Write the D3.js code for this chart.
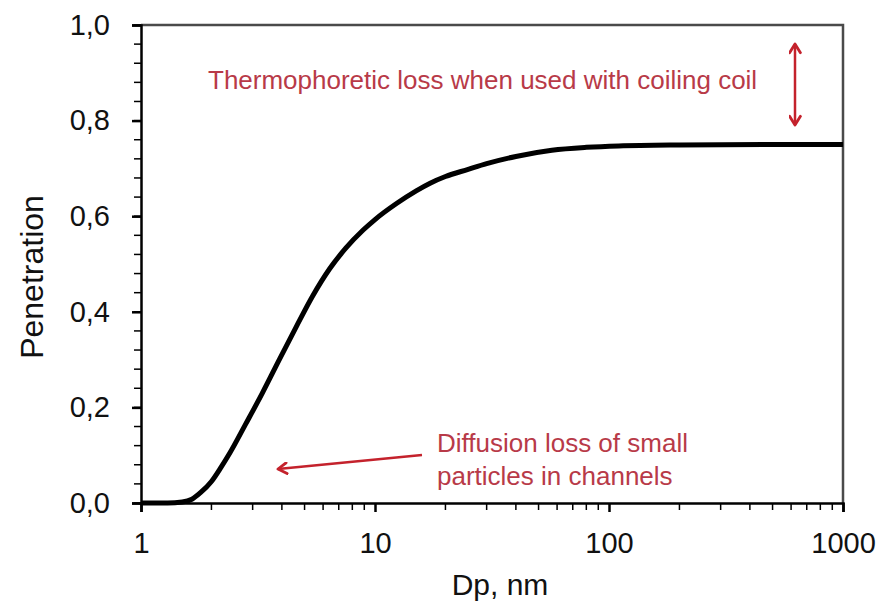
<!DOCTYPE html>
<html>
  <head>
    <title>Penetration vs Dp</title>
    <style>
      body { margin: 0; background: #fff; }
      text { font-family: "Liberation Sans", Arial, sans-serif; }
    </style>
  </head>
  <body>
    <script src="https://d3js.org/d3.v7.min.js"></script>
    <script>

// particle diameter (nm) and penetration
var dp  = [1, 1.3, 1.5, 1.65, 1.8, 2.0, 2.2, 2.4, 2.8, 3.3, 3.9, 4.6, 5.4, 6.4, 7.5, 8.9,
           10, 12.4, 15, 17.2, 20, 25, 30, 40, 57, 80, 110, 200, 500, 1000];
var pen = [0, 0, 0.002, 0.008, 0.022, 0.045, 0.075, 0.105, 0.165, 0.23, 0.3, 0.368, 0.432, 0.49, 0.533, 0.571,
           0.593, 0.627, 0.653, 0.669, 0.683, 0.698, 0.71, 0.725, 0.738, 0.744, 0.747, 0.749, 0.75, 0.75];

var xTicks = [1, 10, 100, 1000];
var yTicks = [0, 0.2, 0.4, 0.6, 0.8, 1.0];

var width = 887,
    height = 605,
    margin = {top: 25, right: 44, bottom: 102, left: 141};

var red = "#c4222c",
    textRed = "#b83a48";

var svg = d3.select("body").append("svg")
    .attr("width", width)
    .attr("height", height);

var x = d3.scaleLog()
    .domain([1, 1000])
    .range([margin.left, width - margin.right]);

var y = d3.scaleLinear()
    .domain([0, 1])
    .range([height - margin.bottom, margin.top]);

var defs = svg.append("defs");
defs.append("marker")
    .attr("id", "head")
    .attr("viewBox", "0 0 12 12")
    .attr("refX", 10).attr("refY", 6)
    .attr("markerUnits", "userSpaceOnUse")
    .attr("markerWidth", 13).attr("markerHeight", 13)
    .attr("orient", "auto-start-reverse")
    .append("path")
    .attr("d", "M2,1 L10,6 L2,11")
    .attr("fill", "none")
    .attr("stroke", red)
    .attr("stroke-width", 2.6)
    .attr("stroke-linecap", "round")
    .attr("stroke-linejoin", "round");

// frame (top + right)
svg.append("path")
    .attr("d", "M" + x(1) + "," + y(1) + "H" + x(1000) + "V" + y(0))
    .attr("fill", "none")
    .attr("stroke", "#4a4a4a")
    .attr("stroke-width", 2.5);

// minor ticks
var xMinor = [];
[1, 10, 100].forEach(function (d) {
  for (var k = 2; k <= 9; k++) xMinor.push(d * k);
});
var yMinor = d3.range(0, 1.001, 0.04);

svg.append("g").selectAll("line").data(xMinor).enter().append("line")
    .attr("x1", function (d) { return x(d); })
    .attr("x2", function (d) { return x(d); })
    .attr("y1", y(0)).attr("y2", y(0) + 7)
    .attr("stroke", "#000").attr("stroke-width", 1.5);

svg.append("g").selectAll("line").data(yMinor).enter().append("line")
    .attr("x1", x(1) - 7).attr("x2", x(1))
    .attr("y1", function (d) { return y(d); })
    .attr("y2", function (d) { return y(d); })
    .attr("stroke", "#000").attr("stroke-width", 1.5);

// axes
var xAxis = svg.append("g")
    .attr("transform", "translate(0," + y(0) + ")")
    .call(d3.axisBottom(x).tickValues(xTicks).tickFormat(d3.format("d")).tickSize(9).tickPadding(20));

var yAxis = svg.append("g")
    .attr("transform", "translate(" + x(1) + ",0)")
    .call(d3.axisLeft(y).tickValues(yTicks).tickFormat(function (d) { return d.toFixed(1).replace(".", ","); })
      .tickSize(9).tickPadding(22));

[xAxis, yAxis].forEach(function (g) {
  g.select(".domain").attr("stroke", "#000").attr("stroke-width", 2.5);
  g.selectAll(".tick line").attr("stroke", "#000").attr("stroke-width", 2.5);
  g.selectAll(".tick text").attr("fill", "#111").style("font-size", "29px")
    .style("font-family", "'Liberation Sans', Arial, sans-serif");
});

// axis titles
svg.append("text")
    .attr("x", 500).attr("y", 595)
    .attr("text-anchor", "middle")
    .style("font-size", "30px").attr("fill", "#111")
    .text("Dp, nm");

svg.append("text")
    .attr("transform", "translate(43,277) rotate(-90)")
    .attr("text-anchor", "middle")
    .style("font-size", "32px").attr("fill", "#111")
    .text("Penetration");

// curve
var line = d3.line()
    .x(function (d, i) { return x(dp[i]); })
    .y(function (d) { return y(d); })
    .curve(d3.curveMonotoneX);

svg.append("path")
    .datum(pen)
    .attr("d", line)
    .attr("fill", "none")
    .attr("stroke", "#000")
    .attr("stroke-width", 5)
    .attr("stroke-linejoin", "round");

// annotations
svg.append("text")
    .attr("x", 208).attr("y", 89)
    .style("font-size", "26px").attr("fill", textRed)
    .text("Thermophoretic loss when used with coiling coil");

svg.append("line")
    .attr("x1", 795).attr("y1", 44)
    .attr("x2", 795).attr("y2", 125)
    .attr("stroke", red).attr("stroke-width", 2.5)
    .attr("marker-start", "url(#head)")
    .attr("marker-end", "url(#head)");

svg.append("text")
    .attr("x", 437).attr("y", 452)
    .style("font-size", "26px").attr("fill", textRed)
    .text("Diffusion loss of small");

svg.append("text")
    .attr("x", 437).attr("y", 485)
    .style("font-size", "26px").attr("fill", textRed)
    .text("particles in channels");

svg.append("line")
    .attr("x1", 422).attr("y1", 455)
    .attr("x2", 278).attr("y2", 469)
    .attr("stroke", red).attr("stroke-width", 2.5)
    .attr("marker-end", "url(#head)");

    </script>
  </body>
</html>
